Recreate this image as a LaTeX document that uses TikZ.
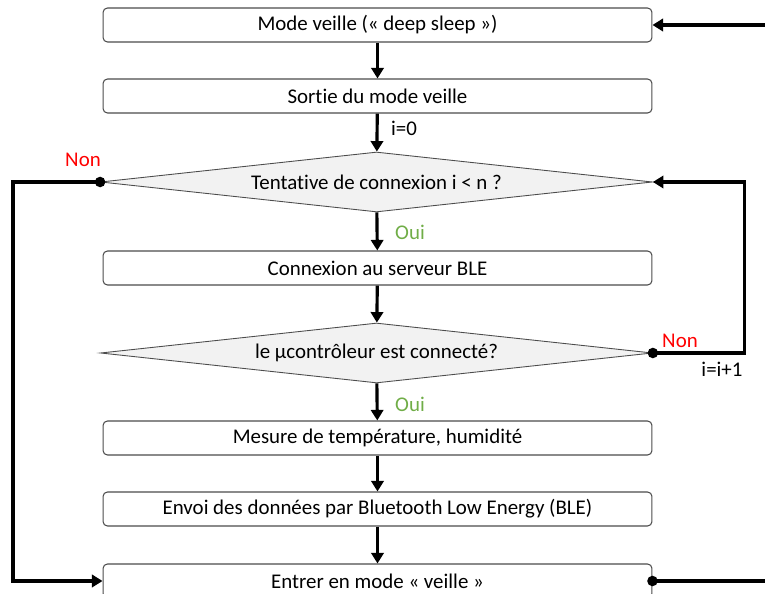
\documentclass[tikz,border=0pt]{standalone}
\usepackage{fontspec}
\setmainfont[Ligatures=NoCommon]{Carlito}
\usetikzlibrary{arrows.meta,shapes.geometric}
\definecolor{ouigreen}{HTML}{70AD47}

\begin{document}
\begin{tikzpicture}[
    x=0.02cm, y=-0.02cm,
    every node/.style={font=\fontsize{11.9}{14}\selectfont},
    stepbox/.style={rectangle, rounded corners=2.5pt, draw=black!70, line width=0.6pt,
        minimum width=10.98cm, minimum height=0.68cm, inner sep=0pt},
    testbox/.style={diamond, aspect=9, draw=black!70, line width=0.5pt, fill=gray!10,
        minimum width=11.04cm, minimum height=1.2cm, inner sep=0pt},
    flow/.style={line width=1.8pt, -{Triangle[length=6pt,width=7pt]}},
    wire/.style={line width=1.8pt},
    dot/.style={circle, fill=black, inner sep=0pt, minimum size=6pt}
]
\useasboundingbox (0,0) rectangle (765,594);

\node[stepbox] (veille) at (377.5,25) {Mode veille (« deep sleep »)};
\node[stepbox] (sortie) at (377.5,96) {Sortie du mode veille};
\node[testbox] (tentative) at (376.5,182) {Tentative de connexion i < n ?};
\node[stepbox] (connexion) at (377.5,268) {Connexion au serveur BLE};
\node[testbox] (connecte) at (376.5,353) {le µcontrôleur est connecté?};
\node[stepbox] (mesure) at (377.5,438) {Mesure de température, humidité};
\node[stepbox] (envoi) at (377.5,509) {Envoi des données par Bluetooth Low Energy (BLE)};
\node[stepbox] (entrer) at (377.5,581) {Entrer en mode « veille »};

\coordinate (retour) at (765,25);
\coordinate (sortiebas) at (765,581);
\coordinate (railgauche) at (13,0);

\draw[flow] (retour) -- (veille.east);
\draw[flow] (veille) -- (sortie);
\draw[flow] (sortie) -- (tentative);
\draw[flow] (tentative) -- (connexion);
\draw[flow] (connexion) -- (connecte);
\draw[flow] (connecte) -- (mesure);
\draw[flow] (mesure) -- (envoi);
\draw[flow] (envoi) -- (entrer);

\draw[flow] (connecte.east) -- ++(92,0) |- (tentative.east);
\draw[flow] (tentative.west) -- (tentative.west -| railgauche) |- (entrer.west);
\draw[wire] (entrer.east) -- (sortiebas);

\node[dot] (dotgauche) at (tentative.west) {};
\node[dot] (dotdroite) at (connecte.east) {};
\node[dot] (dotbas) at (entrer.east) {};

\node[anchor=west] (izero) at (385,128) {i=0};
\node[anchor=west, text=ouigreen] (oui1) at (389,232) {Oui};
\node[anchor=west, text=ouigreen] (oui2) at (389,404) {Oui};
\node[text=red] (non1) at (83,160) {Non};
\node[text=red] (non2) at (680,341) {Non};
\node (incr) at (722,369) {i=i+1};

\end{tikzpicture}
\end{document}
